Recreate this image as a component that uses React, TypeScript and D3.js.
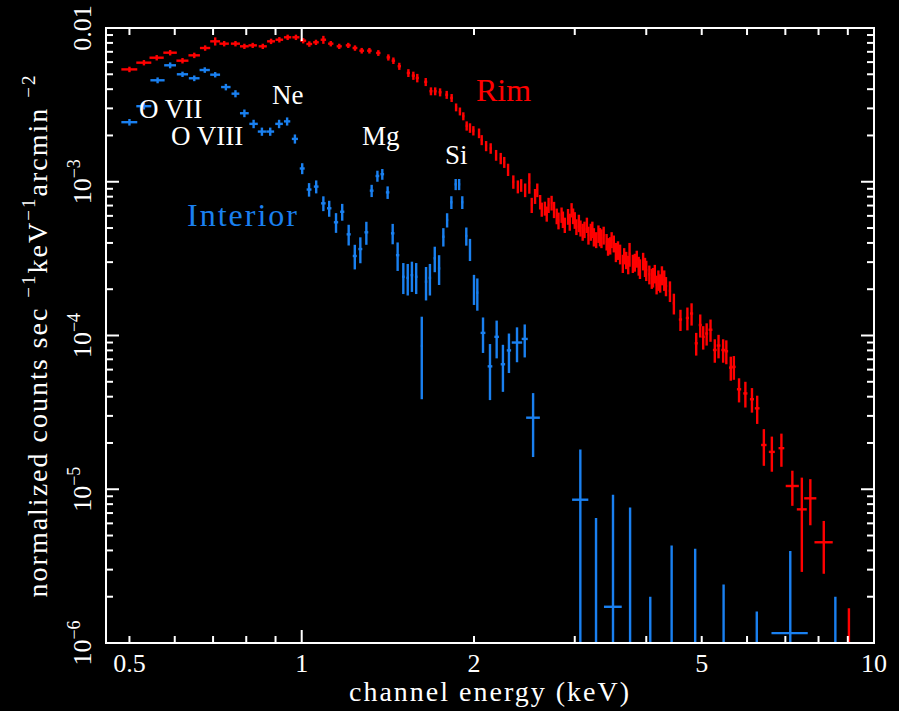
import React from "react";
import * as d3 from "d3";

// ---------- Interior (blue) ----------
const interiorEnergy = [
  0.500, 0.530, 0.560, 0.589, 0.619, 0.649, 0.677, 0.706, 0.737, 0.766,
  0.794, 0.824, 0.852, 0.881, 0.913, 0.943, 0.973, 1.002, 1.030, 1.060,
  1.091, 1.117, 1.148, 1.177, 1.208, 1.238, 1.266, 1.297, 1.325, 1.356,
  1.383, 1.413, 1.442, 1.471, 1.505, 1.532, 1.558, 1.585, 1.621, 1.649,
  1.675, 1.708, 1.738, 1.768, 1.795, 1.826, 1.858, 1.884, 1.908, 1.939,
  1.968, 2.000, 2.027, 2.074, 2.133, 2.191, 2.247, 2.302, 2.378, 2.453,
  2.537, 3.068, 3.268, 3.499, 3.748, 4.065, 4.43, 4.87, 5.46, 6.24,
  7.14, 8.56,
];
const interiorCounts = [
  2.44e-3, 3.10e-3, 4.57e-3, 5.72e-3, 5.0e-3, 4.71e-3, 5.33e-3, 4.97e-3, 4.13e-3, 3.74e-3,
  2.79e-3, 2.38e-3, 2.12e-3, 2.12e-3, 2.38e-3, 2.47e-3, 1.90e-3, 1.22e-3, 8.9e-4, 9.3e-4,
  7.24e-4, 6.72e-4, 5.45e-4, 6.38e-4, 4.55e-4, 3.29e-4, 3.65e-4, 4.69e-4, 8.75e-4, 1.09e-3,
  1.12e-3, 8.53e-4, 4.62e-4, 3.33e-4, 2.41e-4, 2.37e-4, 2.47e-4, 2.41e-4, 8.55e-5, 2.24e-4,
  2.37e-4, 3.18e-4, 2.73e-4, 4.39e-4, 5.64e-4, 7.35e-4, 9.62e-4, 9.62e-4, 7.35e-4, 4.44e-4,
  3.65e-4, 2.03e-4, 1.90e-4, 1.04e-4, 6.3e-5, 9.8e-5, 6.5e-5, 8.0e-5, 9.0e-5, 9.5e-5,
  2.92e-5, 8.55e-6, 0, 1.72e-6, 0, 0, 0, 0, 0, 0,
  1.16e-6, 0,
];
const interiorErr = [
  1.2e-4, 1.5e-4, 2e-4, 2.5e-4, 2e-4, 2e-4, 2.2e-4, 2e-4, 2e-4, 2e-4,
  1.6e-4, 1.5e-4, 1.3e-4, 1.3e-4, 1.5e-4, 1.5e-4, 1.3e-4, 1.0e-4, 9e-5, 9e-5,
  8e-5, 8e-5, 8e-5, 8e-5, 7e-5, 6e-5, 7e-5, 8e-5, 8e-5, 9e-5,
  9e-5, 8e-5, 7e-5, 7e-5, 5.5e-5, 5.5e-5, 5.5e-5, 5.5e-5, 4.7e-5, 5.5e-5,
  5.5e-5, 6e-5, 6e-5, 6e-5, 6e-5, 7e-5, 8e-5, 8e-5, 7e-5, 6e-5,
  6e-5, 4.5e-5, 4.5e-5, 2.7e-5, 2.5e-5, 2.7e-5, 2.2e-5, 2.3e-5, 2.3e-5, 2.3e-5,
  1.3e-5, 9.6e-6, 6.5e-6, 7.5e-6, 7.6e-6, 2.0e-6, 4.3e-6, 4.1e-6, 2.4e-6, 1.6e-6,
  2.8e-6, 2.0e-6,
];
const interiorBin = [
  0.016, 0.016, 0.016, 0.014, 0.014, 0.014, 0.014, 0.014, 0.014, 0.012,
  0.014, 0.014, 0.014, 0.014, 0.014, 0.012, 0.012, 0.010, 0.010, 0.010,
  0.010, 0.010, 0.010, 0.010, 0.010, 0.010, 0.010, 0.010, 0.010, 0.010,
  0.010, 0.010, 0.010, 0.010, 0.008, 0.008, 0.008, 0.008, 0.006, 0.008,
  0.008, 0.008, 0.008, 0.008, 0.008, 0.008, 0.008, 0.008, 0.008, 0.008,
  0.008, 0.008, 0.008, 0.02, 0.02, 0.02, 0.02, 0.02, 0.05, 0.03,
  0.07, 0.10, 0.02, 0.125, 0.02, 0.02, 0.02, 0.02, 0.02, 0.02,
  0.52, 0.02,
];

// ---------- Rim (red) ----------
const rimEnergy = [
  0.500, 0.530, 0.558, 0.589, 0.619, 0.649, 0.678, 0.706, 0.732, 0.766,
  0.794, 0.821, 0.855, 0.884, 0.914, 0.945, 0.977, 1.006, 1.031, 1.059,
  1.091, 1.124, 1.163, 1.206, 1.239, 1.273, 1.313, 1.361, 1.417, 1.446,
  1.481, 1.536, 1.567, 1.592, 1.647, 1.682, 1.711, 1.745, 1.792, 1.828,
  1.861, 1.890, 1.916, 1.942, 1.968, 1.995, 2.041, 2.063, 2.100, 2.139,
  2.186, 2.227, 2.259, 2.294, 2.343, 2.386, 2.418, 2.457, 2.499, 2.523,
  2.557, 2.580, 2.627, 2.660, 2.700, 2.733, 2.790, 2.845, 2.882, 2.920,
  2.962, 3.000, 3.050, 3.097, 3.150, 3.200, 3.240, 3.300, 3.340, 3.410,
  3.460, 3.510, 3.570, 3.640, 3.690, 3.740, 3.790, 3.850, 3.900, 3.950,
  4.000, 4.090, 4.140, 4.200, 4.260, 4.330, 4.400, 4.470, 4.590, 4.720,
  4.800, 4.890, 4.970, 5.030, 5.100, 5.180, 5.270, 5.350, 5.450, 5.520,
  5.620, 5.690, 5.810, 5.960, 6.120, 6.250, 6.420, 6.630, 6.890, 7.200,
  7.480, 7.740, 8.170, 9.040,
  // densely packed channels between 2.6 and 4.3 keV
  2.610, 2.680, 2.760, 2.810, 2.860, 2.940, 2.980, 3.020, 3.070, 3.120,
  3.170, 3.220, 3.270, 3.320, 3.370, 3.430, 3.480, 3.540, 3.600, 3.660,
  3.720, 3.820, 3.880, 3.980, 4.050, 4.110, 4.170, 4.230, 4.300,
];
const rimCounts = [
  5.38e-3, 5.95e-3, 6.41e-3, 6.91e-3, 6.13e-3, 6.64e-3, 7.41e-3, 8.19e-3, 7.91e-3, 7.91e-3,
  7.6e-3, 7.71e-3, 7.6e-3, 8.19e-3, 8.39e-3, 8.7e-3, 8.7e-3, 8.27e-3, 7.87e-3, 8.07e-3,
  8.39e-3, 7.91e-3, 7.6e-3, 7.71e-3, 7.41e-3, 7.12e-3, 7.12e-3, 6.88e-3, 6.44e-3, 6.13e-3,
  5.64e-3, 5.1e-3, 4.9e-3, 4.73e-3, 4.46e-3, 3.88e-3, 3.88e-3, 3.82e-3, 3.68e-3, 3.51e-3,
  3.05e-3, 2.87e-3, 2.67e-3, 2.31e-3, 2.24e-3, 2.15e-3, 2.07e-3, 1.87e-3, 1.71e-3, 1.65e-3,
  1.49e-3, 1.42e-3, 1.34e-3, 1.2e-3, 1.0e-3, 9.3e-4, 9.5e-4, 8.84e-4, 9.86e-4, 7.06e-4,
  8.07e-4, 8.84e-4, 6.62e-4, 6.72e-4, 7.06e-4, 7.3e-4, 5.99e-4, 6.1e-4, 5.24e-4, 5.95e-4,
  6.56e-4, 5.64e-4, 5.4e-4, 4.73e-4, 5.24e-4, 4.73e-4, 4.39e-4, 4.6e-4, 4.3e-4, 4.07e-4,
  3.86e-4, 3.97e-4, 3.6e-4, 2.95e-4, 3.1e-4, 3.4e-4, 2.95e-4, 3.16e-4, 2.73e-4, 3.05e-4,
  2.66e-4, 2.36e-4, 2.53e-4, 2.3e-4, 2.47e-4, 2.1e-4, 1.95e-4, 1.62e-4, 1.27e-4, 1.3e-4,
  1.39e-4, 8.9e-5, 1.17e-4, 9.8e-5, 1.03e-4, 1.09e-4, 8.05e-5, 8.6e-5, 8.05e-5, 7.9e-5,
  6.18e-5, 6.25e-5, 4.47e-5, 4.2e-5, 3.85e-5, 3.36e-5, 1.94e-5, 1.75e-5, 1.85e-5, 1.05e-5,
  7.4e-6, 8.73e-6, 4.52e-6, 0,
  7.4e-4, 6.2e-4, 6.6e-4, 5.6e-4, 5.7e-4, 5.5e-4, 6.0e-4, 5.1e-4, 5.0e-4, 4.9e-4,
  4.5e-4, 4.9e-4, 4.2e-4, 4.4e-4, 4.5e-4, 3.8e-4, 4.2e-4, 3.5e-4, 3.4e-4, 3.3e-4,
  2.9e-4, 3.0e-4, 2.85e-4, 2.8e-4, 2.5e-4, 2.4e-4, 2.15e-4, 2.2e-4, 2.3e-4,
];
const rimErr = [
  2.2e-4, 2.4e-4, 2.6e-4, 2.8e-4, 2.5e-4, 2.7e-4, 3e-4, 5e-4, 3.2e-4, 3.2e-4,
  3e-4, 3e-4, 3e-4, 3.3e-4, 3.4e-4, 3.5e-4, 3.5e-4, 3.3e-4, 3.2e-4, 3.2e-4,
  5e-4, 3.2e-4, 3e-4, 3e-4, 3e-4, 3e-4, 3e-4, 3e-4, 3e-4, 3e-4,
  3e-4, 3e-4, 3e-4, 3e-4, 2.7e-4, 2.3e-4, 2.3e-4, 2.3e-4, 2.2e-4, 2.1e-4,
  1.8e-4, 1.7e-4, 1.6e-4, 1.6e-4, 1.6e-4, 1.5e-4, 1.5e-4, 1.4e-4, 1.3e-4, 1.3e-4,
  1.2e-4, 1.2e-4, 1.1e-4, 1.1e-4, 1.0e-4, 9e-5, 9e-5, 9e-5, 1.5e-4, 8e-5,
  9e-5, 9e-5, 7e-5, 7e-5, 8e-5, 8e-5, 7e-5, 7e-5, 6e-5, 7e-5,
  7e-5, 7e-5, 7e-5, 6e-5, 6e-5, 6e-5, 6e-5, 6e-5, 6e-5, 5e-5,
  5e-5, 5e-5, 5e-5, 4e-5, 4e-5, 6e-5, 4e-5, 4e-5, 4e-5, 4e-5,
  4e-5, 3.5e-5, 3.5e-5, 3.5e-5, 3.5e-5, 3e-5, 3e-5, 2.5e-5, 2e-5, 2.2e-5,
  2.3e-5, 1.5e-5, 2e-5, 1.7e-5, 1.7e-5, 1.8e-5, 1.4e-5, 1.5e-5, 1.4e-5, 1.4e-5,
  1.1e-5, 1.1e-5, 8e-6, 8e-6, 7e-6, 7e-6, 5.2e-6, 4.5e-6, 4.5e-6, 2.7e-6,
  4.5e-6, 2.9e-6, 1.7e-6, 1.68e-6,
  8e-5, 7e-5, 8e-5, 7e-5, 7e-5, 7e-5, 7e-5, 6e-5, 6e-5, 6e-5,
  6e-5, 6e-5, 5e-5, 6e-5, 6e-5, 5e-5, 5e-5, 5e-5, 5e-5, 4e-5,
  4e-5, 4e-5, 4e-5, 4e-5, 3.5e-5, 3.5e-5, 3e-5, 3e-5, 3.5e-5,
];
const rimBin = [
  0.016, 0.016, 0.016, 0.016, 0.015, 0.015, 0.014, 0.014, 0.014, 0.014,
  0.014, 0.014, 0.014, 0.014, 0.014, 0.014, 0.014, 0.012, 0.012, 0.012,
  0.012, 0.012, 0.012, 0.012, 0.012, 0.012, 0.012, 0.012, 0.010, 0.010,
  0.010, 0.010, 0.010, 0.010, 0.010, 0.010, 0.010, 0.010, 0.010, 0.010,
  0.008, 0.008, 0.008, 0.008, 0.008, 0.008, 0.008, 0.008, 0.008, 0.008,
  0.008, 0.008, 0.008, 0.008, 0.008, 0.008, 0.008, 0.008, 0.008, 0.008,
  0.008, 0.008, 0.008, 0.008, 0.008, 0.008, 0.008, 0.008, 0.008, 0.008,
  0.008, 0.010, 0.010, 0.010, 0.010, 0.010, 0.010, 0.010, 0.010, 0.010,
  0.012, 0.012, 0.012, 0.012, 0.012, 0.012, 0.012, 0.012, 0.012, 0.012,
  0.015, 0.015, 0.015, 0.015, 0.015, 0.02, 0.02, 0.02, 0.03, 0.03,
  0.03, 0.03, 0.03, 0.03, 0.03, 0.04, 0.04, 0.04, 0.04, 0.04,
  0.04, 0.04, 0.05, 0.05, 0.05, 0.06, 0.07, 0.08, 0.08, 0.19,
  0.15, 0.19, 0.30, 0.02,
  0.008, 0.008, 0.008, 0.008, 0.008, 0.008, 0.008, 0.010, 0.010, 0.010,
  0.010, 0.010, 0.010, 0.010, 0.010, 0.010, 0.010, 0.012, 0.012, 0.012,
  0.012, 0.012, 0.012, 0.012, 0.015, 0.015, 0.015, 0.015, 0.015,
];

// ---------- axes ----------
const xTickMajor = [1, 10];
const xTickMinor = [0.5, 0.6, 0.7, 0.8, 0.9, 2, 3, 4, 5, 6, 7, 8, 9];
const xTickLabelValues = [0.5, 1, 2, 5, 10];
const xTickLabels = ["0.5", "1", "2", "5", "10"];
const yTickMajor = [1e-6, 1e-5, 1e-4, 1e-3, 1e-2];
const yTickMantissas = [2, 3, 4, 5, 6, 7, 8, 9];
const yTickBases = ["10", "10", "10", "10", "0.01"];
const yTickExps = ["−6", "−5", "−4", "−3", ""];

const RED = "#ff0000";
const BLUE = "#1a80f0";
const FONT = "'Liberation Serif', 'DejaVu Serif', serif";

const W = 899;
const H = 711;
const M = { left: 106, right: 874, top: 28, bottom: 643 };

const x = d3.scaleLog().domain([0.455, 10]).range([M.left, M.right]);
const y = d3.scaleLog().domain([1e-6, 1e-2]).range([M.bottom, M.top]);

function Series({ e, v, err, bin, color }: { e: number[]; v: number[]; err: number[]; bin: number[]; color: string }) {
  return (
    <g stroke={color} strokeWidth={2.4} clipPath="url(#plotclip)">
      {e.map((en, i) => {
        const val = v[i];
        const hi = val + err[i];
        const lo = Math.max(val - err[i], 1e-8);
        return (
          <g key={i}>
            <line x1={x(en)} x2={x(en)} y1={y(lo)} y2={y(hi)} />
            {val > 0 && (
              <line x1={x(en - bin[i])} x2={x(en + bin[i])} y1={y(val)} y2={y(val)} />
            )}
          </g>
        );
      })}
    </g>
  );
}

export default function App() {
  const yMinor: number[] = [];
  [1e-6, 1e-5, 1e-4, 1e-3].forEach((d) => yTickMantissas.forEach((m) => yMinor.push(d * m)));
  return (
    <svg
      width={W}
      height={H}
      style={{ position: "absolute", left: 0, top: 0, background: "#000" }}
      fontFamily={FONT}
    >
      <rect x={0} y={0} width={W} height={H} fill="#000" />
      <defs>
        <clipPath id="plotclip">
          <rect x={M.left} y={M.top} width={M.right - M.left} height={M.bottom - M.top} />
        </clipPath>
      </defs>

      <Series e={rimEnergy} v={rimCounts} err={rimErr} bin={rimBin} color={RED} />
      <Series e={interiorEnergy} v={interiorCounts} err={interiorErr} bin={interiorBin} color={BLUE} />

      {/* frame and ticks */}
      <g stroke="#fff" strokeWidth={2} fill="none">
        <rect x={M.left} y={M.top} width={M.right - M.left} height={M.bottom - M.top} />
        {xTickMajor.map((t) => (
          <g key={"xM" + t}>
            <line x1={x(t)} x2={x(t)} y1={M.bottom} y2={M.bottom - 13} />
            <line x1={x(t)} x2={x(t)} y1={M.top} y2={M.top + 13} />
          </g>
        ))}
        {xTickMinor.map((t) => (
          <g key={"xm" + t}>
            <line x1={x(t)} x2={x(t)} y1={M.bottom} y2={M.bottom - 7} />
            <line x1={x(t)} x2={x(t)} y1={M.top} y2={M.top + 7} />
          </g>
        ))}
        {yTickMajor.map((t) => (
          <g key={"yM" + t}>
            <line x1={M.left} x2={M.left + 13} y1={y(t)} y2={y(t)} />
            <line x1={M.right} x2={M.right - 13} y1={y(t)} y2={y(t)} />
          </g>
        ))}
        {yMinor.map((t) => (
          <g key={"ym" + t}>
            <line x1={M.left} x2={M.left + 7} y1={y(t)} y2={y(t)} />
            <line x1={M.right} x2={M.right - 7} y1={y(t)} y2={y(t)} />
          </g>
        ))}
      </g>

      {/* x tick labels */}
      <g fill="#fff" fontSize={26} textAnchor="middle">
        {xTickLabelValues.map((t, i) => (
          <text key={t} x={x(t)} y={672}>
            {xTickLabels[i]}
          </text>
        ))}
      </g>

      {/* y tick labels */}
      <g fill="#fff" fontSize={26}>
        {yTickMajor.map((t, i) => (
          <text key={t} transform={`translate(91,${y(t)}) rotate(-90)`} textAnchor="middle">
            {yTickBases[i]}
            {yTickExps[i] && (
              <tspan fontSize={18} dy={-11}>
                {yTickExps[i]}
              </tspan>
            )}
          </text>
        ))}
      </g>

      {/* axis titles */}
      <text x={490} y={701} fill="#fff" fontSize={28} textAnchor="middle" letterSpacing={2}>
        channel energy (keV)
      </text>
      <text
        transform={`translate(47,${(M.top + M.bottom) / 2}) rotate(-90)`}
        fill="#fff"
        fontSize={28}
        textAnchor="middle"
        letterSpacing={2}
      >
        normalized counts sec{" "}
        <tspan fontSize={19} dy={-12}>−1</tspan>
        <tspan dy={12}>keV</tspan>
        <tspan fontSize={19} dy={-12}>−1</tspan>
        <tspan dy={12}>arcmin </tspan>
        <tspan fontSize={19} dy={-12}>−2</tspan>
      </text>

      {/* annotations */}
      <g fill="#fff" fontSize={27}>
        <text x={139} y={118}>O VII</text>
        <text x={171} y={145}>O VIII</text>
        <text x={272} y={104}>Ne</text>
        <text x={362} y={145}>Mg</text>
        <text x={445} y={164}>Si</text>
      </g>
      <text x={476} y={101} fill={RED} fontSize={32}>Rim</text>
      <text x={187} y={226} fill={BLUE} fontSize={32} letterSpacing={2}>Interior</text>
    </svg>
  );
}
